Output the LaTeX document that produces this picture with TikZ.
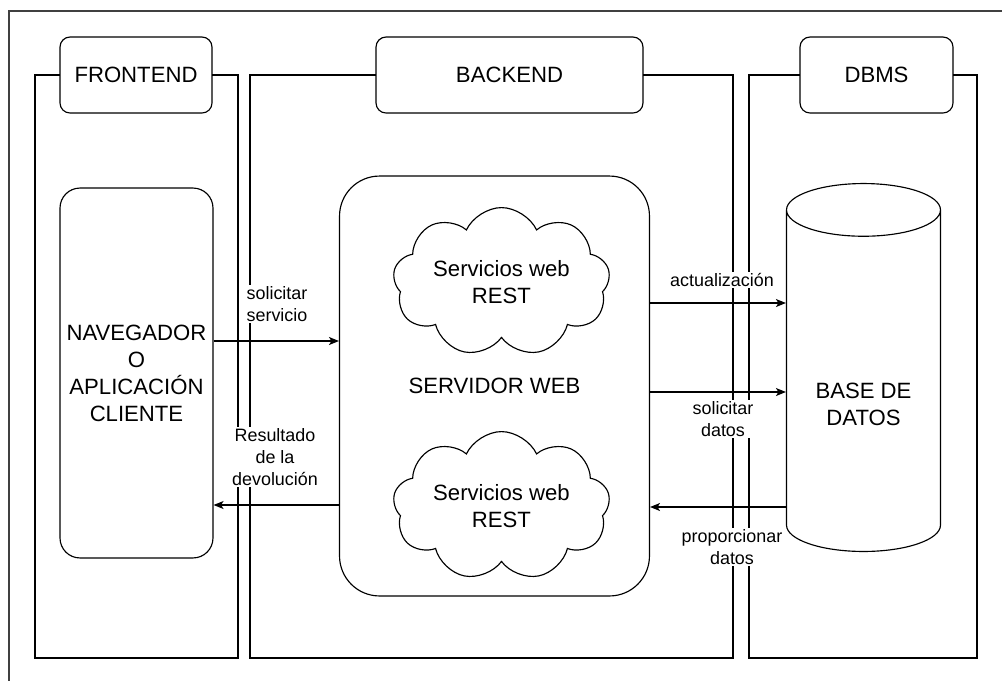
\documentclass[tikz,border=0pt]{standalone}
\usepackage{fontspec}
\setmainfont{Liberation Sans}
\usetikzlibrary{arrows.meta,shapes.symbols,shapes.geometric}
\newcommand\grande{\fontsize{12.6}{15.4}\selectfont}
\newcommand\chica{\fontsize{10.2}{12.5}\selectfont}
\begin{document}
\begin{tikzpicture}[x=0.02cm,y=-0.02cm,line width=0.65pt,
    caja/.style={draw,fill=white,align=center,font=\grande,inner sep=0pt},
    titulo/.style={caja,rounded corners=0.2cm,minimum height=1.52cm},
    nube/.style={caja,cloud,cloud puffs=9,cloud puff arc=130,aspect=1.7,minimum width=4.34cm,minimum height=2.56cm},
    lbl/.style={fill=white,align=center,inner sep=1pt,font=\chica},
    flecha/.style={-{Stealth[length=0.2cm,width=0.16cm,inset=0.05cm]}}]
    \useasboundingbox (0,0) rectangle (1002,681);
    \draw [black!75] (1002,11) -| (9,681);%marco exterior
    % carriles
    \draw (35,75) rectangle (238,658);
    \draw (250,75) rectangle (733,658);
    \draw (749,75) rectangle (977,658);
    \node [titulo,minimum width=3.04cm] (front) at (136,75) {FRONTEND};
    \node [titulo,minimum width=5.34cm] (back) at (509.5,75) {BACKEND};
    \node [titulo,minimum width=3.06cm] (dbms) at (876.5,75) {DBMS};
    % cajas
    \node [caja,rounded corners=0.4cm,minimum width=3.06cm,minimum height=7.4cm] (nav) at (136.5,373)
        {NAVEGADOR\\O\\APLICACIÓN\\CLIENTE};
    \node [caja,rounded corners=0.8cm,minimum width=6.2cm,minimum height=8.4cm] (srv) at (494.5,386) {SERVIDOR WEB};
    \node [nube] (rest1) at (501.5,282) {Servicios web\\REST};
    \node [nube] (rest2) at (501.5,506) {Servicios web\\REST};
    \node [draw,cylinder,shape border rotate=90,aspect=4.5,minimum width=3.08cm,minimum height=7.36cm] (bd) at (863.5,386) {};
    \node [font=\grande,align=center] (bdtxt) at (863.5,404.5) {BASE DE\\DATOS};
    % flechas
    \draw [flecha] (nav.east|-0,341) -- (srv.west|-0,341);
    \draw [flecha] (srv.west|-0,505) -- (nav.east|-0,505);
    \draw [flecha] (srv.east|-0,303) -- (bd.west|-0,303);
    \draw [flecha] (srv.east|-0,392) -- (bd.west|-0,392);
    \draw [flecha] (bd.west|-0,507) -- (srv.east|-0,507);
    \node [lbl] (l1) at (277,304) {solicitar\\servicio};
    \node [lbl] (l2) at (275,457) {Resultado\\de la\\devolución};
    \node [lbl] (l3) at (722,280) {actualización};
    \node [lbl] (l4) at (723,419) {solicitar\\datos};
    \node [lbl] (l5) at (732,547) {proporcionar\\datos};
\end{tikzpicture}
\end{document}
